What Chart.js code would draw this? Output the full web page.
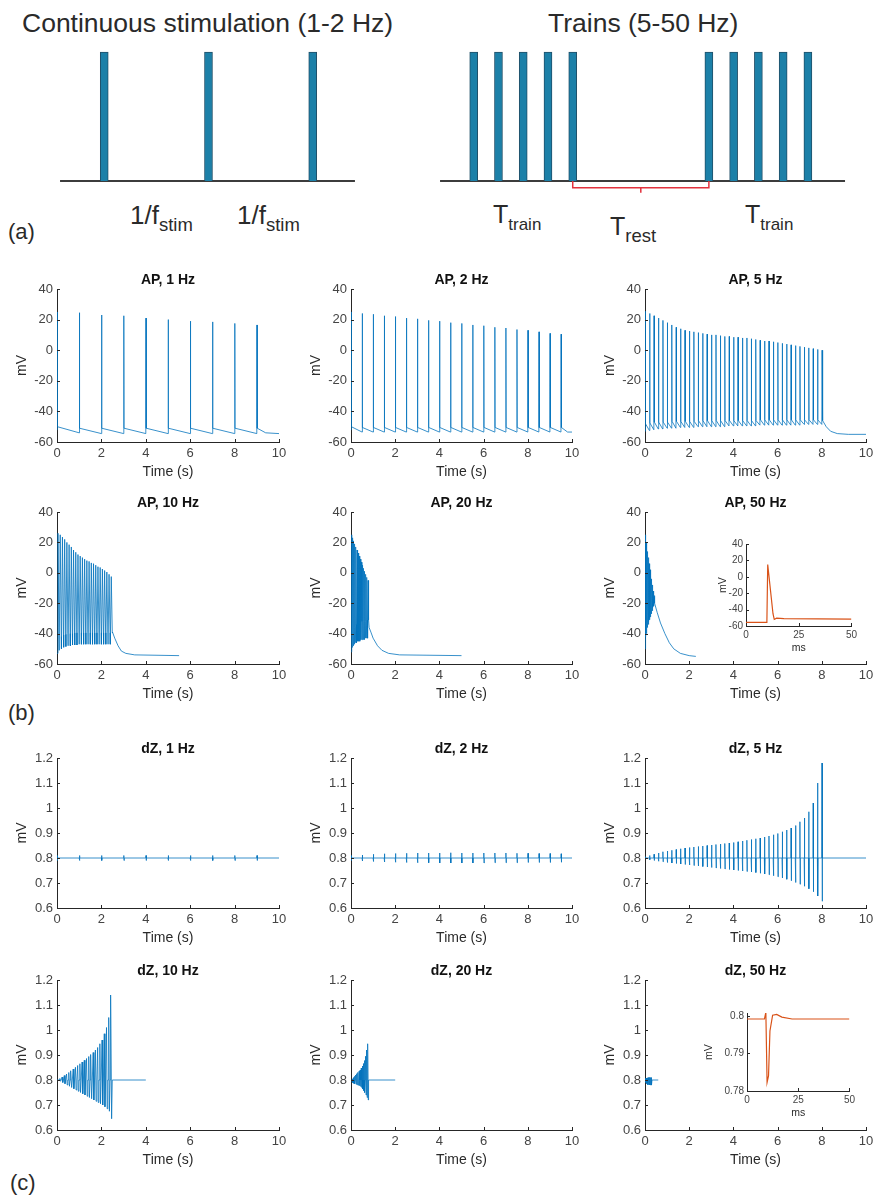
<!DOCTYPE html>
<html>
<head>
<meta charset="utf-8">
<script src="https://cdn.jsdelivr.net/npm/chart.js@4.4.0/dist/chart.umd.min.js"></script>
<style>
body { margin: 0; background: #fff; width: 873px; height: 1196px; position: relative; overflow: hidden; font-family: "Liberation Sans", Arial, sans-serif; }
canvas { position: absolute; }
.t { position: absolute; color: #2a2a2a; white-space: nowrap; line-height: 1; }
.sub { font-size: 17px; position: relative; top: 7px; }
.sub2 { font-size: 18.5px; position: relative; top: 7px; }
</style>
</head>
<body>

<div class="t" style="left:22px;top:10px;font-size:26.5px">Continuous stimulation (1-2 Hz)</div>
<div class="t" style="left:548px;top:10px;font-size:26.5px">Trains (5-50 Hz)</div>
<div class="t" style="left:130px;top:202px;font-size:26px">1/f<span class="sub2">stim</span></div>
<div class="t" style="left:237px;top:202px;font-size:26px">1/f<span class="sub2">stim</span></div>
<div class="t" style="left:493px;top:202px;font-size:25px">T<span class="sub">train</span></div>
<div class="t" style="left:610px;top:214px;font-size:25px">T<span class="sub2">rest</span></div>
<div class="t" style="left:745px;top:202px;font-size:25px">T<span class="sub">train</span></div>
<div class="t" style="left:8px;top:221px;font-size:22px">(a)</div>
<div class="t" style="left:8px;top:702px;font-size:22px">(b)</div>
<div class="t" style="left:10px;top:1172px;font-size:22px">(c)</div>

<script>
// ---- panel (a): stimulation schemes ----
const contPulses = [1, 2, 3];
const contBaseline = [0.576, 3.405];
const trainPulses = [0, 1, 2, 3, 4, 9.5, 10.5, 11.5, 12.5, 13.5];
const trainBaseline = [-1.36, 15.0];
const restBracketX = [4, 4, 6.75, 6.75, 6.75, 9.5, 9.5];
const restBracketY = [0, -0.052, -0.052, -0.09, -0.052, -0.052, 0];

// ---- panel (b): action potentials (mV) ----
const apT1 = [0, 1, 2, 3, 4, 5, 6, 7, 8, 9];
const apPeak1 = [25, 24.5, 23, 22.5, 21, 20, 19, 18.5, 17.5, 16.5];
const apPre1 = [-52, -54, -54.5, -54.5, -54.5, -54.5, -54.5, -54.5, -54.5, -54.5];
const apPost1 = [-50, -51, -51, -51, -51, -51, -51, -51, -51, -51];
const apTailT1 = [9.4, 10];
const apTailV1 = [-54, -54.5];

const apT2 = [0, 0.5, 1, 1.5, 2, 2.5, 3, 3.5, 4, 4.5, 5, 5.5, 6, 6.5, 7, 7.5, 8, 8.5, 9, 9.5];
const apPeak2 = [25, 24, 23.5, 22.5, 22, 21, 20.5, 19.5, 19, 18, 17.5, 16.5, 16, 15, 14.5, 13.5, 13, 12, 11, 10.5];
const apPre2 = [-52, -53.5, -53.5, -53.5, -53.5, -53.5, -53.5, -53.5, -53.5, -53.5, -53.5, -53.5, -53.5, -53.5, -53.5, -53.5, -53.5, -53.5, -53.5, -53.5];
const apPost2 = [-50, -50.5, -50.5, -50.5, -50.5, -50.5, -50.5, -50.5, -50.5, -50.5, -50.5, -50.5, -50.5, -50.5, -50.5, -50.5, -50.5, -50.5, -50.5, -50.5];
const apTailT2 = [9.8, 10];
const apTailV2 = [-53.5, -53.5];

const apT5 = [0, 0.2, 0.4, 0.6, 0.8, 1, 1.2, 1.4, 1.6, 1.8, 2, 2.2, 2.4, 2.6, 2.8, 3, 3.2, 3.4, 3.6, 3.8, 4,
  4.2, 4.4, 4.6, 4.8, 5, 5.2, 5.4, 5.6, 5.8, 6, 6.2, 6.4, 6.6, 6.8, 7, 7.2, 7.4, 7.6, 7.8, 8];
const apPeak5 = [25.5, 24, 22.5, 21, 19.5, 18, 16.5, 15, 14, 13, 12.5, 12, 11.5, 11, 10.5, 10, 10, 9.5, 9, 9, 8.5,
  8.5, 8, 8, 7.5, 7, 6.5, 6, 6, 5.5, 5, 4.5, 4, 3.5, 3, 2.5, 2, 1.5, 1, 0.5, 0];
const apPre5 = [-53, -52.5, -52, -51.5, -51.5, -51, -51, -51, -50.5, -50.5, -50.5, -50.5, -50, -50, -50, -50, -50, -50, -50, -49.5, -49.5,
  -49.5, -49.5, -49.5, -49.5, -49.5, -49, -49, -49, -49, -49, -49, -49, -49, -49, -49, -48.5, -48.5, -48.5, -48.5, -48.5];
const apPost5 = [-48, -47.5, -47, -47, -47, -47, -46.5, -46.5, -46.5, -46.5, -46.5, -46.5, -46, -46, -46, -46, -46, -46, -46, -46, -46,
  -46, -46, -46, -46, -46, -45.5, -45.5, -45.5, -45.5, -45.5, -45.5, -45.5, -45.5, -45.5, -45.5, -45.5, -45.5, -45.5, -45.5, -45.5];
const apTailT5 = [8.05, 8.2, 8.4, 8.7, 9.2, 10];
const apTailV5 = [-46, -50, -53, -54.5, -55, -55];

const apT10 = [0, 0.1, 0.2, 0.3, 0.4, 0.5, 0.6, 0.7, 0.8, 0.9, 1, 1.1, 1.2, 1.3, 1.4, 1.5, 1.6, 1.7, 1.8, 1.9, 2, 2.1, 2.2, 2.3, 2.4];
const apPeak10 = [26, 25, 23.5, 22, 20, 18.5, 17, 15, 13.5, 12, 11, 10, 9, 8, 7.5, 6.5, 6, 5, 4, 3.5, 2.5, 1.5, 0.5, -1, -2.5];
const apPre10 = [-53, -51, -50, -49, -48.5, -48, -48, -47.5, -47.5, -47.5, -47, -47, -47, -47, -47, -47, -47, -47, -47, -47, -47, -47, -47, -47, -47];
const apPost10 = [-44, -42, -41, -40.5, -40, -40, -40, -39.5, -39.5, -39.5, -39.5, -39.5, -39.5, -39.5, -39.5, -39.5, -39.5, -39.5, -39.5, -39.5, -39.5, -39.5, -39.5, -39.5, -39.5];
const apTailT10 = [2.5, 2.6, 2.75, 2.9, 3.1, 3.5, 5.5];
const apTailV10 = [-39, -43, -48, -51.5, -53, -54, -54.5];

const apT20 = [0, 0.05, 0.1, 0.15, 0.2, 0.25, 0.3, 0.35, 0.4, 0.45, 0.5, 0.55, 0.6, 0.65, 0.7, 0.75];
const apPeak20 = [25, 23, 21, 19, 17, 15, 13, 11, 9, 7, 5, 3, 1, -1, -3, -5];
const apPre20 = [-52, -49, -48, -47, -46, -46, -45, -45, -45, -44, -44, -44, -44, -43, -43, -43];
const apPost20 = [-40, -38, -36, -35, -34, -34, -33, -33, -33, -32, -32, -32, -32, -31, -31, -31];
const apTailT20 = [0.82, 0.9, 1.0, 1.2, 1.4, 1.7, 2.2, 5];
const apTailV20 = [-36, -39, -43, -48, -51, -53, -54, -54.5];

const apT50 = [0, 0.02, 0.04, 0.06, 0.08, 0.1, 0.12, 0.14, 0.16, 0.18, 0.2, 0.22, 0.24, 0.26, 0.28, 0.3, 0.32, 0.34, 0.36, 0.38, 0.4];
const apPeak50 = [25, 22, 20, 18, 16, 14, 12, 10, 8, 6, 4, 2, 0, -2, -4, -6, -8, -10, -12, -14, -16];
const apPre50 = [-50, -45, -42, -40, -38, -36, -35, -34, -33, -32, -31, -30, -29, -28, -27, -26, -25, -24, -23, -22, -22];
const apPost50 = [-40, -35, -32, -30, -28, -26, -25, -24, -23, -22, -21, -20, -19, -18, -17, -17, -16, -16, -15, -15, -15];
const apTailT50 = [0.45, 0.55, 0.7, 0.9, 1.1, 1.3, 1.6, 2.0, 2.3];
const apTailV50 = [-20, -26, -33, -40, -46, -50, -53, -54.5, -55];

// single AP at 50 Hz (inset, ms / mV)
const apInsetT = [0, 9.9, 10.3, 12.8, 13.4, 14.5, 18, 50];
const apInsetV = [-55.5, -55.5, 15, -45, -52, -50.5, -51, -51.5];

// ---- panel (c): impedance change dZ (mV) ----
const dzBase = 0.8;
const dzT1 = [0, 1, 2, 3, 4, 5, 6, 7, 8, 9];
const dzTop1 = [0.81, 0.81, 0.81, 0.81, 0.81, 0.81, 0.81, 0.81, 0.81, 0.81];
const dzBot1 = [0.79, 0.79, 0.79, 0.79, 0.79, 0.79, 0.79, 0.79, 0.79, 0.79];

const dzT2 = apT2;
const dzTop2 = [0.81, 0.812, 0.815, 0.817, 0.818, 0.819, 0.82, 0.82, 0.82, 0.821, 0.82, 0.82, 0.82, 0.82, 0.82, 0.819, 0.819, 0.818, 0.818, 0.817];
const dzBot2 = [0.79, 0.788, 0.786, 0.784, 0.783, 0.782, 0.781, 0.781, 0.78, 0.78, 0.78, 0.78, 0.78, 0.781, 0.781, 0.781, 0.782, 0.782, 0.782, 0.783];

const dzT5 = apT5;
const dzTop5 = [0.805, 0.81, 0.815, 0.82, 0.825, 0.828, 0.831, 0.834, 0.837, 0.84, 0.842, 0.844, 0.846, 0.848, 0.85, 0.852, 0.854, 0.856, 0.858, 0.86, 0.862,
  0.865, 0.868, 0.871, 0.874, 0.877, 0.88, 0.884, 0.888, 0.893, 0.898, 0.905, 0.912, 0.92, 0.93, 0.945, 0.96, 0.985, 1.02, 1.1, 1.18];
const dzBot5 = [0.797, 0.793, 0.79, 0.787, 0.785, 0.782, 0.78, 0.778, 0.776, 0.774, 0.772, 0.77, 0.768, 0.766, 0.764, 0.762, 0.76, 0.758, 0.756, 0.754, 0.752,
  0.75, 0.748, 0.746, 0.744, 0.742, 0.739, 0.736, 0.733, 0.729, 0.725, 0.72, 0.715, 0.709, 0.702, 0.695, 0.687, 0.677, 0.665, 0.648, 0.627];

const dzT10 = apT10;
const dzTop10 = [0.8, 0.806, 0.812, 0.818, 0.824, 0.83, 0.837, 0.844, 0.851, 0.858, 0.865, 0.872, 0.879, 0.886, 0.894, 0.902, 0.91, 0.92, 0.93, 0.945, 0.96, 0.985, 1.01, 1.05, 1.14];
const dzBot10 = [0.8, 0.795, 0.79, 0.785, 0.78, 0.775, 0.77, 0.765, 0.76, 0.755, 0.75, 0.745, 0.74, 0.735, 0.73, 0.725, 0.72, 0.715, 0.71, 0.705, 0.7, 0.693, 0.685, 0.675, 0.645];

const dzT20 = apT20;
const dzTop20 = [0.8, 0.805, 0.81, 0.815, 0.82, 0.825, 0.83, 0.835, 0.84, 0.848, 0.856, 0.866, 0.878, 0.895, 0.92, 0.945];
const dzBot20 = [0.795, 0.79, 0.787, 0.785, 0.783, 0.781, 0.779, 0.777, 0.774, 0.77, 0.765, 0.758, 0.75, 0.74, 0.73, 0.72];

const dzT50 = [0, 0.02, 0.04, 0.06, 0.08, 0.1, 0.12, 0.14, 0.16, 0.18, 0.2, 0.22, 0.24, 0.26, 0.28, 0.3];
const dzTop50 = [0.805, 0.806, 0.807, 0.807, 0.808, 0.808, 0.809, 0.809, 0.81, 0.81, 0.81, 0.81, 0.81, 0.81, 0.81, 0.81];
const dzBot50 = [0.795, 0.79, 0.787, 0.785, 0.784, 0.783, 0.782, 0.782, 0.781, 0.781, 0.78, 0.78, 0.78, 0.78, 0.78, 0.78];
const dzEnd = [10, 10, 10, 4, 2, 0.6];

// single dZ response at 50 Hz (inset, ms / mV)
const dzInsetT = [0, 8.5, 9.2, 9.8, 10.5, 11.2, 12.5, 14.5, 17, 22, 50];
const dzInsetV = [0.7992, 0.7992, 0.801, 0.7823, 0.784, 0.796, 0.8002, 0.8004, 0.7997, 0.7992, 0.7992];

const BLUE = 'rgba(0,114,189,0.78)';
const ORANGE = '#D95319';
const AXIS = '#262626';
const TICK = '#444';
Chart.defaults.font.family = '"Liberation Sans", Arial, sans-serif';
Chart.defaults.animation = false;

function spikeTrace(times, pre, peaks, post, tailT, tailV, w) {
  const pts = [];
  for (let i = 0; i < times.length; i++) {
    pts.push({x: times[i], y: pre[i]});
    pts.push({x: times[i] + w, y: peaks[i]});
    pts.push({x: times[i] + 2 * w, y: post[i]});
  }
  for (let i = 0; i < tailT.length; i++) pts.push({x: tailT[i], y: tailV[i]});
  return pts;
}

function dzTrace(times, tops, bots, endT, w) {
  const pts = [];
  times.forEach((t, i) => {
    pts.push({x: t, y: dzBase}, {x: t + w, y: tops[i]}, {x: t + 2 * w, y: bots[i]}, {x: t + 3 * w, y: dzBase});
  });
  pts.push({x: endT, y: dzBase});
  return pts;
}

function pairs(xs, ys) {
  return xs.map((x, i) => ({x: x, y: ys[i]}));
}

// MATLAB style ticks pointing into the axes
const inTicks = {
  id: 'inTicks',
  afterDraw(chart) {
    const {ctx, chartArea: a, scales: {x, y}} = chart;
    ctx.save();
    ctx.strokeStyle = AXIS;
    ctx.lineWidth = 1;
    ctx.beginPath();
    x.ticks.forEach(t => {
      const px = Math.round(x.getPixelForValue(t.value)) + 0.5;
      ctx.moveTo(px, a.bottom);
      ctx.lineTo(px, a.bottom - 3);
    });
    y.ticks.forEach(t => {
      const py = Math.round(y.getPixelForValue(t.value)) + 0.5;
      ctx.moveTo(a.left, py);
      ctx.lineTo(a.left + 3, py);
    });
    ctx.stroke();
    ctx.restore();
  }
};

function addCanvas(left, top, w, h) {
  const cv = document.createElement('canvas');
  cv.width = w;
  cv.height = h;
  cv.style.left = left + 'px';
  cv.style.top = top + 'px';
  cv.style.width = w + 'px';
  cv.style.height = h + 'px';
  document.body.appendChild(cv);
  return cv;
}

function makePlot(box, o) {
  const [l, r, t, b] = box;
  const cv = addCanvas(l - o.padL, t - o.padT, r - l + o.padL + o.padR, b - t + o.padT + o.padB);
  const fs = o.small ? 10 : 13;
  const ts = o.small ? 10.5 : 14;
  const axis = (min, max, step, fmt, title, fit) => ({
    type: 'linear', min: min, max: max,
    afterFit: fit,
    grid: {display: false, drawTicks: false},
    border: {display: true, color: AXIS, width: 1},
    ticks: {stepSize: step, includeBounds: false, autoSkip: false, maxRotation: 0, padding: o.small ? 3 : 4,
      color: TICK, font: {size: fs}, callback: fmt},
    title: {display: true, text: title, color: '#2a2a2a', font: {size: ts}, padding: 0}
  });
  new Chart(cv, {
    type: 'line',
    data: {datasets: o.series.map(s => ({
      data: s.data, borderColor: s.color, borderWidth: s.width || 1,
      pointRadius: 0, tension: 0, fill: false
    }))},
    options: {
      responsive: false,
      animation: false,
      events: [],
      layout: {padding: {left: 0, right: o.padR, top: o.title ? 0 : o.padT, bottom: 0}},
      plugins: {
        legend: {display: false},
        tooltip: {enabled: false},
        title: o.title ? {display: true, text: o.title, fullSize: false, color: '#111',
          font: {size: 14, weight: 'bold', lineHeight: 1}, padding: {top: 0, bottom: o.padT - 14}} : {display: false}
      },
      scales: {
        x: axis(o.x[0], o.x[1], o.x[2], v => String(v), o.xTitle, s => { s.height = o.padB; }),
        y: axis(o.y[0], o.y[1], o.y[2], o.yFmt, 'mV', s => { s.width = o.padL; })
      }
    },
    plugins: [inTicks]
  });
}

function makeScheme(left, width, xr, pulses, base, bracket) {
  const cv = addCanvas(left, 40, width, 160);
  const sets = [
    {type: 'line', data: pairs(base, [0, 0]), borderColor: '#3c3c3c', borderWidth: 2, pointRadius: 0, order: 2},
    {type: 'bar', data: pulses.map(p => ({x: p, y: 1})), backgroundColor: '#1c80a8', borderColor: '#214f68',
      borderWidth: 1, barThickness: 8, order: 1}
  ];
  if (bracket) {
    sets.push({type: 'line', data: pairs(bracket[0], bracket[1]), borderColor: '#e2313d', borderWidth: 1.5,
      pointRadius: 0, tension: 0, order: 0});
  }
  new Chart(cv, {
    type: 'bar',
    data: {datasets: sets},
    options: {
      responsive: false, animation: false, events: [],
      layout: {padding: 0},
      plugins: {legend: {display: false}, tooltip: {enabled: false}},
      scales: {
        x: {type: 'linear', display: false, offset: false, min: xr[0], max: xr[1]},
        y: {type: 'linear', display: false, min: -0.147, max: 1.093}
      }
    }
  });
}

makeScheme(0, 430, [0, 4.125], contPulses, contBaseline, null);
makeScheme(430, 443, [-1.766, 16.13], trainPulses, trainBaseline, [restBracketX, restBracketY]);

const cols = [[57, 279], [351, 572], [645, 866]];
const apRows = [[289, 442], [512, 664]];
const dzRows = [[758, 908], [980, 1130]];
const main = {padL: 43, padR: 12, padT: 16, padB: 39, xTitle: 'Time (s)', x: [0, 10, 2]};
const apFmt = v => String(v);
const dzFmt = v => String(Math.round(v * 10) / 10);

// spike half-widths (s): wide enough that dense trains read as a filled band
const apSeries = [
  spikeTrace(apT1, apPre1, apPeak1, apPost1, apTailT1, apTailV1, 0.01),
  spikeTrace(apT2, apPre2, apPeak2, apPost2, apTailT2, apTailV2, 0.01),
  spikeTrace(apT5, apPre5, apPeak5, apPost5, apTailT5, apTailV5, 0.012),
  spikeTrace(apT10, apPre10, apPeak10, apPost10, apTailT10, apTailV10, 0.045),
  spikeTrace(apT20, apPre20, apPeak20, apPost20, apTailT20, apTailV20, 0.022),
  spikeTrace(apT50, apPre50, apPeak50, apPost50, apTailT50, apTailV50, 0.009)
];
const dzSeries = [
  dzTrace(dzT1, dzTop1, dzBot1, dzEnd[0], 0.01),
  dzTrace(dzT2, dzTop2, dzBot2, dzEnd[1], 0.01),
  dzTrace(dzT5, dzTop5, dzBot5, dzEnd[2], 0.01),
  dzTrace(dzT10, dzTop10, dzBot10, dzEnd[3], 0.03),
  dzTrace(dzT20, dzTop20, dzBot20, dzEnd[4], 0.015),
  dzTrace(dzT50, dzTop50, dzBot50, dzEnd[5], 0.006)
];
const freqs = ['1 Hz', '2 Hz', '5 Hz', '10 Hz', '20 Hz', '50 Hz'];

freqs.forEach((f, i) => {
  const c = cols[i % 3];
  const ar = apRows[Math.floor(i / 3)];
  makePlot([c[0], c[1], ar[0], ar[1]], Object.assign({}, main, {
    title: 'AP, ' + f, y: [-60, 40, 20], yFmt: apFmt,
    series: [{data: apSeries[i], color: BLUE, width: 1}]
  }));
  const dr = dzRows[Math.floor(i / 3)];
  makePlot([c[0], c[1], dr[0], dr[1]], Object.assign({}, main, {
    title: 'dZ, ' + f, y: [0.6, 1.2, 0.1], yFmt: dzFmt,
    series: [{data: dzSeries[i], color: BLUE, width: 1}]
  }));
});

// insets: single response at 50 Hz
makePlot([746, 852, 541, 626], {
  small: true, padL: 29, padR: 8, padT: 6, padB: 28, xTitle: 'ms', x: [0, 50, 25],
  y: [-60, 40, 20], yFmt: apFmt,
  series: [{data: pairs(apInsetT, apInsetV), color: ORANGE, width: 1.2}]
});
makePlot([747, 850, 1010, 1091], {
  small: true, padL: 44, padR: 8, padT: 6, padB: 28, xTitle: 'ms', x: [0, 50, 25],
  y: [0.78, 0.8008, 0.01], yFmt: v => String(Math.round(v * 100) / 100),
  series: [{data: pairs(dzInsetT, dzInsetV), color: ORANGE, width: 1.2}]
});
</script>
</body>
</html>
